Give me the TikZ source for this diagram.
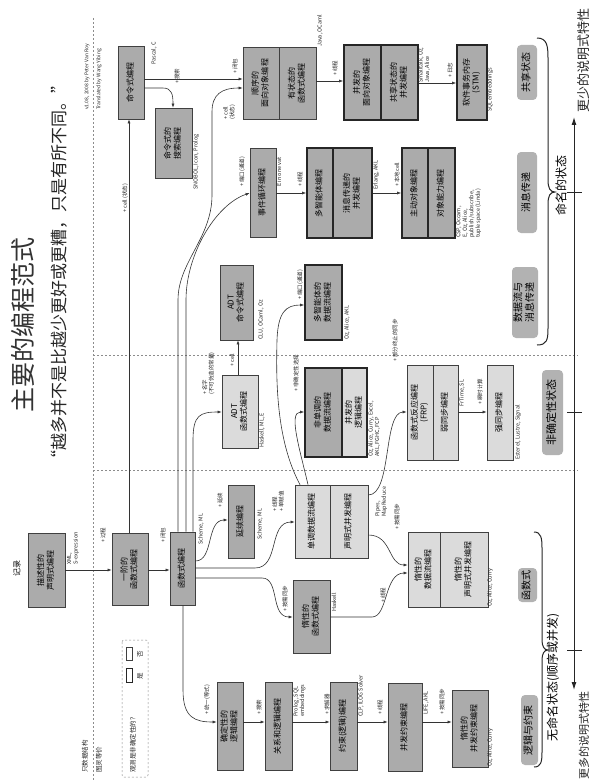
\documentclass[tikz,border=0pt]{standalone}
\usepackage{fontspec}
\setmainfont{Noto Sans CJK SC}
\usepackage{graphicx}
\usetikzlibrary{arrows.meta,calc}
\newcommand{\RT}[1]{\rotatebox{90}{\begin{tabular}{@{}c@{}}#1\end{tabular}}}
\tikzset{
 bx/.style={draw=black!75, line width=0.7pt, fill=black!33, inner sep=0pt, font=\fontsize{8}{9.3}\selectfont},
 lt/.style={fill=black!14},
 thk/.style={line width=1.8pt, draw=black!85},
 cat/.style={fill=black!30, rounded corners=4pt, inner sep=0pt, font=\fontsize{10}{11.5}\selectfont},
 arr/.style={draw=black!80, line width=0.6pt, -{Latex[length=4pt,width=3pt]}},
 lab/.style={rotate=90, anchor=west, inner sep=0pt, font=\fontsize{5.5}{6.5}\selectfont, text=black!85},
 labm/.style={lab, anchor=north west, align=left},
 sep/.style={draw=black!45, dash pattern=on 2pt off 2pt, line width=0.5pt},
}
\begin{document}
\begin{tikzpicture}[x=1pt,y=-1pt]
\useasboundingbox (0,0) rectangle (592,781);
\fill[white] (0,0) rectangle (592,781);

% titles
\node[rotate=90, text=black!80, font=\fontsize{25}{26}\selectfont] (title) at (22.5,325) {主要的编程范式};
\node[rotate=90, text=black!85, font=\fontsize{17}{18}\selectfont] (subtitle) at (59,272) {“越多并不是比越少更好或更糟，只是有所不同。”};
\node[lab, font=\fontsize{5}{6}\selectfont] (cred1) at (87,110) {v1.08, 2008 by Peter Van Roy};
\node[lab, font=\fontsize{5}{6}\selectfont] (cred2) at (99,110) {Translated by Wang Yibing};

% separators
\draw[sep] (93,18) -- (93,781);
\draw[sep] (93,355) -- (578,355);
\draw[sep] (93,470) -- (578,470);
\node[lab, font=\fontsize{6.5}{7.5}\selectfont] (dso) at (85,773) {只数据结构};
\node[lab, font=\fontsize{6.5}{7.5}\selectfont] (teq) at (99,773) {图灵等价};

% legend
\draw[sep, rounded corners=2pt] (122,640) rectangle (148,777);
\node[lab, font=\fontsize{6.5}{7.5}\selectfont] (legt) at (133,773) {观测是非确定性的？};
\node[draw=black!85, line width=1.6pt, fill=white, minimum width=6pt, minimum height=14pt, inner sep=0pt] (legy) at (129.5,675.5) {};
\node[draw=black!75, line width=0.6pt, fill=white, minimum width=6pt, minimum height=13pt, inner sep=0pt] (legn) at (129.5,653.5) {};
\node[lab, anchor=center, font=\fontsize{6.5}{7.5}\selectfont] (legyt) at (140,676) {是};
\node[lab, anchor=center, font=\fontsize{6.5}{7.5}\selectfont] (legnt) at (140,654) {否};

% record
\node[rotate=90, font=\fontsize{8}{9}\selectfont] (rec) at (17,568) {记录};

% boxes
\node[bx, minimum width=37pt, minimum height=74pt] (desc) at (46.5,570) {\RT{描述性的\\声明式编程}};
\node[bx, minimum width=36pt, minimum height=72pt] (fo) at (130,569) {\RT{一阶的\\函数式编程}};
\node[bx, minimum width=25pt, minimum height=73pt] (func) at (182.5,568.5) {\RT{函数式编程}};
\node[bx, minimum width=26pt, minimum height=73pt] (imp) at (131,82.5) {\RT{命令式编程}};
\node[bx, minimum width=37pt, minimum height=70pt] (isearch) at (173.5,143) {\RT{命令式的\\搜索编程}};
\node[bx, minimum width=36pt, minimum height=72pt] (seq1) at (261,83) {\RT{顺序的\\面向对象编程}};
\node[bx, minimum width=37pt, minimum height=72pt] (seq2) at (297.5,83) {\RT{有状态的\\函数式编程}};
\node[bx, thk, minimum width=37pt, minimum height=75pt] (coop1) at (362.5,82.5) {\RT{并发的\\面向对象编程}};
\node[bx, thk, minimum width=37pt, minimum height=75pt] (coop2) at (399.5,82.5) {\RT{共享状态的\\并发编程}};
\node[bx, thk, minimum width=30pt, minimum height=75pt] (stm) at (472,82.5) {\RT{软件事务内存\\(STM)}};
\node[bx, minimum width=26pt, minimum height=89pt] (event) at (263,192.5) {\RT{事件循环编程}};
\node[bx, thk, minimum width=26pt, minimum height=90pt] (ma1) at (320,193) {\RT{多智能体编程}};
\node[bx, thk, minimum width=39pt, minimum height=90pt] (ma2) at (352.5,193) {\RT{消息传递的\\并发编程}};
\node[bx, thk, minimum width=26pt, minimum height=90pt] (ao1) at (415,193) {\RT{主动对象编程}};
\node[bx, thk, minimum width=27pt, minimum height=90pt] (ao2) at (441.5,193) {\RT{对象能力编程}};
\node[bx, lt, minimum width=36pt, minimum height=73pt] (adtf) at (240,411.5) {\RT{ADT\\函数式编程}};
\node[bx, minimum width=33pt, minimum height=75pt] (adti) at (236.5,302.5) {\RT{ADT\\命令式编程}};
\node[bx, thk, minimum width=37pt, minimum height=75pt] (madf) at (323.5,302.5) {\RT{多智能体的\\数据流编程}};
\node[bx, thk, minimum width=37pt, minimum height=89pt] (nm1) at (323.5,412.5) {\RT{非单调的\\数据流编程}};
\node[bx, thk, lt, minimum width=25pt, minimum height=89pt] (nm2) at (354.5,412.5) {\RT{并发的\\逻辑编程}};
\node[bx, lt, minimum width=26pt, minimum height=95pt] (frp1) at (420,412.5) {\RT{函数式反应编程\\(FRP)}};
\node[bx, lt, minimum width=25pt, minimum height=95pt] (frp2) at (445.5,412.5) {\RT{弱同步编程}};
\node[bx, lt, minimum width=26pt, minimum height=95pt] (strong) at (500,412.5) {\RT{强同步编程}};
\node[bx, minimum width=26pt, minimum height=73pt] (cont) at (241,521.5) {\RT{延续编程}};
\node[bx, lt, minimum width=35pt, minimum height=73pt] (dc1) at (312.5,521.5) {\RT{单调数据流编程}};
\node[bx, lt, minimum width=38pt, minimum height=73pt] (dc2) at (349,521.5) {\RT{声明式并发编程}};
\node[bx, minimum width=37pt, minimum height=73pt] (lazyf) at (311.5,616.5) {\RT{惰性的\\函数式编程}};
\node[bx, lt, minimum width=32pt, minimum height=75pt] (ldf1) at (424,569.5) {\RT{惰性的\\数据流编程}};
\node[bx, lt, minimum width=48pt, minimum height=75pt] (ldf2) at (464,569.5) {\RT{惰性的\\声明式并发编程}};
\node[bx, minimum width=26pt, minimum height=88pt] (detl) at (230,726) {\RT{确定性的\\逻辑编程}};
\node[bx, minimum width=27pt, minimum height=88pt] (rel) at (278.5,726) {\RT{关系和逻辑编程}};
\node[bx, minimum width=27pt, minimum height=88pt] (clp) at (343.5,726) {\RT{约束(逻辑)编程}};
\node[bx, minimum width=34pt, minimum height=88pt] (ccp) at (405,727) {\RT{并发约束编程}};
\node[bx, minimum width=36pt, minimum height=77pt] (lccp) at (470,728.5) {\RT{惰性的\\并发约束编程}};

% category labels
\node[cat, minimum width=17pt, minimum height=70pt] (clogic) at (529.5,730) {\RT{逻辑与约束}};
\node[cat, minimum width=19pt, minimum height=34pt] (cfunc) at (527.5,585) {\RT{函数式}};
\node[cat, minimum width=26pt, minimum height=71pt] (cdf) at (525,302.5) {\RT{数据流与\\消息传递}};
\node[cat, minimum width=20pt, minimum height=81pt] (cmp) at (527,192.5) {\RT{消息传递}};
\node[cat, minimum width=20pt, minimum height=55pt] (css) at (527,72.5) {\RT{共享状态}};
\node[cat, minimum width=21pt, minimum height=85pt, font=\fontsize{11}{12}\selectfont] (cnd) at (552.5,412.5) {\RT{非确定性状态}};

% braces
\draw[line width=1pt, black!85] (537,38) .. controls (547,38) and (548,46) .. (548,58) -- (548,180) .. controls (548,188) and (550,192) .. (555,192) .. controls (550,192) and (548,196) .. (548,204) -- (548,328) .. controls (548,340) and (547,345) .. (537,345);
\draw[line width=1pt, black!85] (534,532) .. controls (541,532) and (542,538) .. (542,548) -- (542,640) .. controls (542,646) and (544,650) .. (548,650) .. controls (544,650) and (542,654) .. (542,660) -- (542,752) .. controls (542,762) and (541,767) .. (534,767);
\node[rotate=90, font=\fontsize{12}{13}\selectfont] (named) at (561,185) {命名的状态};
\node[rotate=90, font=\fontsize{12}{13}\selectfont] (unnamed) at (553,677) {无命名状态(顺序或并发)};

% axis
\coordinate (axt) at (574,117);
\coordinate (axb) at (574,690);
\draw[line width=1pt, black!85, {Latex[length=8pt,width=5pt]}-{Latex[length=8pt,width=5pt]}] (axt) -- (axb);
\draw[line width=1pt, black!85] (567,192) -- (582,192) (567,412) -- (582,412) (567,650) -- (582,650);
\node[lab, font=\fontsize{13}{14}\selectfont] (less) at (584,113) {更少的说明式特性};
\node[lab, anchor=east, font=\fontsize{11}{12}\selectfont] (more) at (584,691) {更多的说明式特性};

% connectors
\draw[arr] (desc.east |- 0,570) -- (fo.west |- 0,570);
\draw[arr] (fo.east |- 0,570) -- (func.west |- 0,570);
\draw[arr] (fo.north -| 129,0) -- (imp.south -| 129,0);
\draw[arr] (imp.east |- 0,88) -- (163,88) .. controls (172,88) and (173,95) .. (isearch.north -| 173,0);
\draw[arr] (imp.east |- 0,79) -- (seq1.west |- 0,79);
\draw[arr] (func.east |- 0,561) .. controls (214,561) and (206,520) .. (cont.west |- 0,520);
\draw[arr] (func.east |- 0,568) -- (255,568) .. controls (280,568) and (268,522) .. (dc1.west |- 0,522);
\draw[arr] (func.east |- 0,578) -- (262,578) .. controls (280,578) and (270,617) .. (lazyf.west |- 0,617);
\draw[arr] (lazyf.east |- 0,617) -- (372,617) .. controls (388,617) and (384,573) .. (ldf1.west |- 0,573);
\draw[arr] (dc2.east |- 0,535) .. controls (392,535) and (388,565) .. (ldf1.west |- 0,565);
\draw[arr] (dc2.east |- 0,495) .. controls (392,495) and (383,412) .. (frp1.west |- 0,412);
\draw[arr] (dc1.north -| 308,0) .. controls (300,450) and (288,412) .. (nm1.west |- 0,412);
\draw[arr] (dc1.north -| 300,0) .. controls (276,440) and (276,380) .. (277,340) .. controls (278,312) and (286,305) .. (madf.west |- 0,305);
\draw[arr] (func.north -| 193,0) -- (193,440) .. controls (193,415) and (200,412) .. (adtf.west |- 0,412);
\draw[arr] (func.north -| 186,0) -- (186,300) .. controls (186,255) and (215,205) .. (event.west |- 0,193);
\draw[arr] (func.north -| 178,0) -- (178,300) .. controls (178,262) and (212,238) .. (212,195) -- (212,112) .. controls (212,94) and (222,88) .. (seq1.west |- 0,88);
\draw[arr] (seq2.east |- 0,81) -- (coop1.west |- 0,81);
\draw[arr] (coop2.east |- 0,83) -- (stm.west |- 0,83);
\draw[arr] (event.east |- 0,193) -- (ma1.west |- 0,193);
\draw[arr] (ma2.east |- 0,193) -- (ao1.west |- 0,193);
\draw[arr] (adtf.north -| 238,0) -- (adti.south -| 238,0);
\draw[arr] (frp2.east |- 0,412) -- (strong.west |- 0,412);
\draw[arr] (func.south -| 183,0) -- (183,690) .. controls (183,718) and (195,722) .. (detl.west |- 0,722);
\draw[arr] (detl.east |- 0,722) -- (rel.west |- 0,722);
\draw[arr] (rel.east |- 0,722) -- (clp.west |- 0,722);
\draw[arr] (clp.east |- 0,722) -- (ccp.west |- 0,722);
\draw[arr] (ccp.east |- 0,722) -- (lccp.west |- 0,722);

% plus labels
\node[lab] (p1) at (103,543) {+ 过程};
\node[lab] (p2) at (163,543) {+ 闭包};
\node[lab] (p3) at (125,213) {+ cell (状态)};
\node[lab] (p4) at (177,84) {+ 搜索};
\node[lab] (p5) at (235,74) {+ 闭包};
\node[labm] (p6) at (223,120) {+ cell\\(状态)};
\node[lab] (p7) at (335,76) {+ 线程};
\node[lab] (p8) at (450,78) {+ 日志};
\node[lab] (p9) at (242,187) {+ 端口(通道)};
\node[lab] (p10) at (300,187) {+ 线程};
\node[lab] (p11) at (397,187) {+ 本地cell};
\node[labm] (p12) at (202,395) {+ 名字\\(不可伪造的常量)};
\node[lab] (p13) at (232,367) {+ cell};
\node[lab] (p14) at (300,300) {+ 端口(通道)};
\node[lab] (p15) at (296,392) {+ 非确定性选择};
\node[lab] (p16) at (395,362) {+ 部分终止的同步};
\node[lab] (p17) at (480,405) {+ 瞬时计算};
\node[lab] (p18) at (220,508) {+ 延续};
\node[labm] (p19) at (272,512) {+ 线程\\+ 单赋值};
\node[lab] (p20) at (285,612) {+ 按需同步};
\node[lab] (p21) at (383,603) {+ 线程};
\node[lab] (p22) at (397,530) {+ 按需同步};
\node[lab] (p23) at (207,715) {+ 统一(等式)};
\node[lab] (p24) at (259,715) {+ 搜索};
\node[lab] (p25) at (327,715) {+ 求解器};
\node[lab] (p26) at (380,715) {+ 线程};
\node[lab] (p27) at (442,715) {+ 按需同步};

% language labels
\node[labm] (g1) at (67,565) {XML,\\S-expression};
\node[lab] (g2) at (201,545) {Scheme, ML};
\node[lab] (g3) at (260,540) {Scheme, ML};
\node[lab] (g4) at (334,612) {Haskell};
\node[labm] (g5) at (375,517) {Pipes,\\MapReduce};
\node[lab] (g6) at (262,448) {Haskell, ML, E};
\node[lab] (g7) at (261,340) {CLU, OCaml, Oz};
\node[lab] (g8) at (347,340) {Oz, Alice, AKL};
\node[labm] (g9) at (368,457) {Oz, Alice, Curry, Excel,\\AKL, FGHC, FCP};
\node[lab] (g10) at (462,407) {FrTime, SL};
\node[lab] (g11) at (518,460) {Esterel, Lustre, Signal};
\node[lab] (g12) at (490,607) {Oz, Alice, Curry};
\node[labm] (g13) at (293,717) {Prolog, SQL\\embeddings};
\node[lab] (g14) at (361,717) {CLP, ILOG Solver};
\node[lab] (g15) at (426,715) {LIFE, AKL};
\node[lab] (g16) at (490,767) {Oz, Alice, Curry};
\node[lab] (g17) at (154,65) {Pascal, C};
\node[lab] (g18) at (196,190) {SNOBOL, Icon, Prolog};
\node[lab] (g19) at (320,47) {Java, OCaml};
\node[labm] (g20) at (418,83) {Smalltalk, Oz,\\Java, Alice};
\node[lab] (g21) at (490,112) {SQL embeddings};
\node[lab] (g22) at (279,187) {E in one vat};
\node[lab] (g23) at (376,190) {Erlang, AKL};
\node[labm] (g24) at (456,238) {CSP, Occam,\\E, Oz, Alice,\\publish/subscribe,\\tuple space (Linda)};
\end{tikzpicture}
\end{document}
